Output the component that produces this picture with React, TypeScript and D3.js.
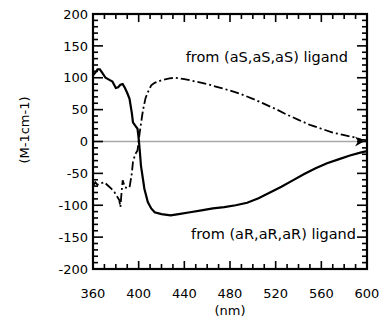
import * as d3 from 'd3';

// wavelength (nm) / CD (M-1cm-1)
const rWave = [360, 362, 364, 366, 368, 371, 374, 377, 380, 382, 384, 386, 388, 390, 392, 394, 395, 397, 399, 400, 401, 402, 404, 405, 408, 411, 414, 420, 428, 435, 445, 455, 465, 475, 485, 495, 505, 515, 525, 535, 545, 555, 565, 575, 585, 595, 600];
const rCD = [104, 108, 113, 113, 108, 100, 97, 94, 84, 85, 89, 90, 84, 76, 67, 45, 30, 25, 20, 5, -15, -38, -62, -74, -95, -105, -111, -114, -116, -114, -111, -108, -105, -103, -100, -96, -89, -80, -71, -61, -51, -42, -34, -28, -22, -17, -15];

const sWave = [360, 362, 364, 366, 370, 373, 376, 379, 381, 383, 384, 385, 386, 388, 390, 392, 394, 395, 397, 399, 401, 403, 404, 406, 408, 411, 414, 420, 427, 432, 440, 450, 460, 470, 480, 490, 500, 510, 520, 530, 540, 550, 560, 570, 580, 590, 595, 600];
const sCD = [-70, -64, -68, -66, -64, -69, -74, -80, -86, -92, -103, -80, -61, -72, -73, -72, -50, -32, -20, -14, 15, 40, 51, 68, 77, 88, 92, 96, 99, 100, 98, 94, 90, 85, 80, 74, 67, 59, 51, 42, 34, 26, 20, 14, 10, 6, 3, 2];

const xTickLabels = [360, 400, 440, 480, 520, 560, 600];
const yTickLabels = [200, 150, 100, 50, 0, -50, -100, -150, -200];

const W = 385;
const H = 320;
const m = { left: 93, right: 367, top: 14, bottom: 269 };
const font = 'DejaVu Sans, sans-serif';

export default function App() {
  const x = d3.scaleLinear().domain([360, 600]).range([m.left, m.right]);
  const y = d3.scaleLinear().domain([-200, 200]).range([m.bottom, m.top]);

  const line = d3.line<[number, number]>().x((d) => x(d[0])).y((d) => y(d[1]));
  const rPts = rWave.map((w, i) => [w, rCD[i]] as [number, number]);
  const sPts = sWave.map((w, i) => [w, sCD[i]] as [number, number]);

  const xMinor = d3.range(360, 601, 10);
  const yMinor = d3.range(-200, 201, 10);

  // little arrow marker at the right end of the curves
  const ax = x(600) - 3;
  const ay = y(0);

  return (
    <div style={{ position: 'fixed', left: 0, top: 0 }}>
      <svg width={W} height={H} style={{ display: 'block', background: '#fff' }}>
        <line x1={x(360)} x2={x(600)} y1={y(0)} y2={y(0)} stroke="#a8a8a8" strokeWidth={1.5} />

        {/* ticks as small filled rects, inward on all four sides */}
        {xMinor.map((v) => {
          const len = v % 40 === 0 ? 8 : 5;
          return (
            <g key={'x' + v} fill="#000">
              <rect x={x(v) - 0.8} y={m.bottom - len} width={1.6} height={len} />
              <rect x={x(v) - 0.8} y={m.top} width={1.6} height={len} />
            </g>
          );
        })}
        {yMinor.map((v) => {
          const len = v % 50 === 0 ? 10 : 5;
          return (
            <g key={'y' + v} fill="#000">
              <rect x={m.left} y={y(v) - 0.8} width={len} height={1.6} />
              <rect x={m.right - len} y={y(v) - 0.8} width={len} height={1.6} />
            </g>
          );
        })}

        <rect x={m.left} y={m.top} width={m.right - m.left} height={m.bottom - m.top} fill="none" stroke="#000" strokeWidth={2.2} />

        <path d={line(sPts) ?? ''} fill="none" stroke="#000" strokeWidth={1.8} strokeDasharray="9,3,2,3" />
        <path d={line(rPts) ?? ''} fill="none" stroke="#000" strokeWidth={2.2} />
        <path d={`M${ax - 9},${ay - 5}L${ax},${ay}L${ax - 9},${ay + 5}L${ax - 6},${ay}Z`} fill="#000" />

        {yTickLabels.map((v) => (
          <text key={'yl' + v} x={88} y={y(v)} dy="0.36em" textAnchor="end" fontFamily={font} fontSize={13}>
            {v}
          </text>
        ))}
        {xTickLabels.map((v) => (
          <text key={'xl' + v} x={x(v)} y={298} textAnchor="middle" fontFamily={font} fontSize={13}>
            {v}
          </text>
        ))}

        <text x={x(480)} y={315} textAnchor="middle" fontFamily={font} fontSize={13}>(nm)</text>
        <text transform="translate(29,130) rotate(-90)" textAnchor="middle" fontFamily={font} fontSize={13}>
          (M-1cm-1)
        </text>

        <text x={348} y={62} textAnchor="end" fontFamily={font} fontSize={14.5}>from (aS,aS,aS) ligand</text>
        <text x={356} y={239} textAnchor="end" fontFamily={font} fontSize={14.5}>from (aR,aR,aR) ligand</text>
      </svg>
    </div>
  );
}
